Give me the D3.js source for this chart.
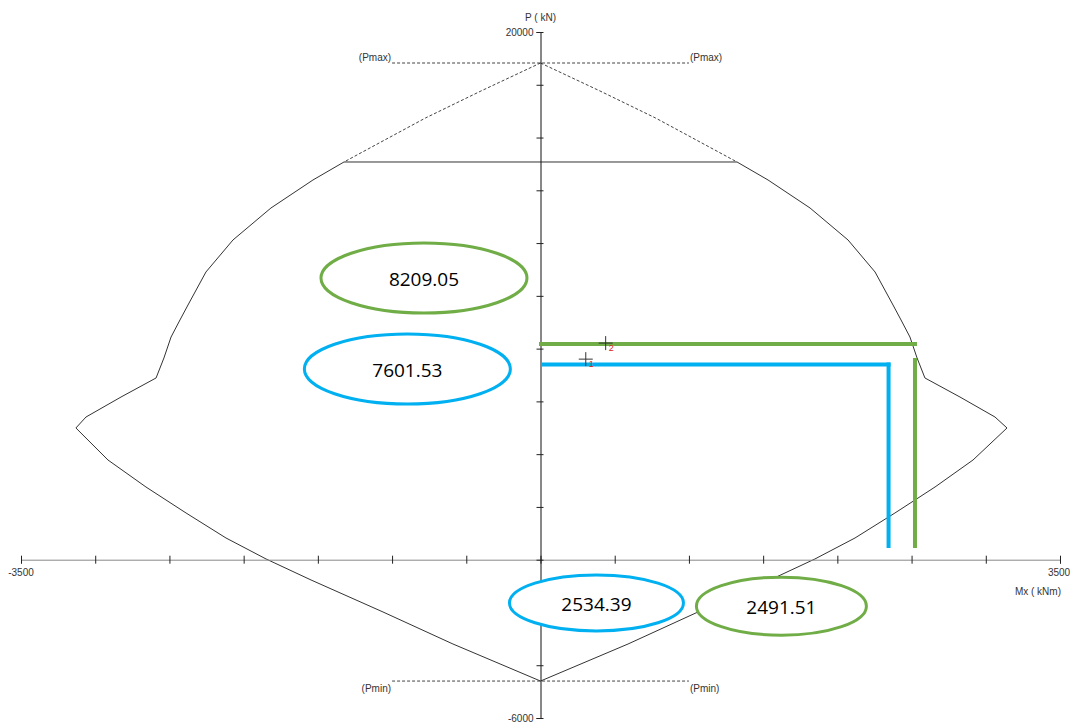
<!DOCTYPE html>
<html>
<head>
<meta charset="utf-8">
<script src="https://cdn.jsdelivr.net/npm/d3@7"></script>
<style>
  body { margin: 0; background: #fff; }
  svg text { font-family: "Liberation Sans", Arial, sans-serif; }
</style>
</head>
<body>
<svg id="chart" width="1075" height="725"></svg>
<script>
// Interaction diagram P-Mx

// axis ranges and ticks
const mDomain = [-3500, 3500];
const pDomain = [20000, -6000];
const mTicks = d3.range(-3500, 3501, 500);
const pTicks = d3.range(-6000, 20001, 2000);

// capacity limits
const pMax = 18825;
const pMin = -4600;
const limitSpan = [-1000, 1000];

// dashed top part of the envelope (above the cut-off)
const capRight = [[0, 18825], [401, 17764], [775, 16741], [1324, 15073]];
const capLeft = [[0, 18825], [-401, 17764], [-775, 16741], [-1324, 15073]];
const cutOff = [[-1324, 15073], [1324, 15073]];

// solid envelope, right and left halves
const envRight = [
  [1324, 15073], [1533, 14391], [1816, 13330], [2072, 12117], [2254, 10904],
  [2375, 9653], [2429, 9085], [2489, 8440], [2537, 7645], [2590, 6887],
  [2826, 6166], [3062, 5408], [3143, 4992], [2914, 3779], [2658, 2755],
  [2388, 1770], [2119, 823], [1849, 27], [1546, -769], [1061, -1982],
  [590, -3195], [0, -4600]
];
const envLeft = [
  [-1324, 15073], [-1533, 14391], [-1816, 13330], [-2072, 12117], [-2254, 10904],
  [-2375, 9653], [-2429, 9085], [-2489, 8440], [-2537, 7645], [-2590, 6887],
  [-2826, 6166], [-3062, 5408], [-3130, 4992], [-2914, 3779], [-2658, 2755],
  [-2388, 1770], [-2119, 823], [-1849, 27], [-1546, -769], [-1061, -1982],
  [-590, -3195], [0, -4600]
];

// load points
const loadIds = ["1", "2"];
const loadM = [305, 439];
const loadP = [7601.53, 8209.05];

// hand-drawn overlay guides
const guideColor = ["#00b0f0", "#70ad47"];
const guideM = [2345, 2523];
const guideP = [7398, 8175];
const guideStartM = [10, -10];
const guideVertTop = [7398, 7645];
const guideVertBottom = 444;

// callouts: label, centre (M, P), colour index
const calloutText = ["8209.05", "7601.53", "2534.39", "2491.51"];
const calloutM = [-785, -897, 377, 1623];
const calloutP = [10677, 7228, -1640, -1760];
const calloutColor = [1, 0, 0, 1];
const calloutRx = [103, 103, 87, 85];
const calloutRy = [35, 35, 28, 29];

const svg = d3.select("svg#chart");

const x = d3.scaleLinear().domain(mDomain).range([21, 1060]);
const y = d3.scaleLinear().domain(pDomain).range([32, 718]);

const line = d3.line().x(d => x(d[0])).y(d => y(d[1]));

const g = svg.append("g");

// envelope
g.selectAll("path.cap")
  .data([capRight, capLeft])
  .enter().append("path")
  .attr("class", "cap")
  .attr("d", line)
  .attr("fill", "none")
  .attr("stroke", "#444")
  .attr("stroke-width", 1)
  .attr("stroke-dasharray", "3,2");

g.selectAll("path.env")
  .data([cutOff, envRight, envLeft])
  .enter().append("path")
  .attr("class", "env")
  .attr("d", line)
  .attr("fill", "none")
  .attr("stroke", "#333")
  .attr("stroke-width", 1);

// Pmax / Pmin limit lines
const limits = [["(Pmax)", pMax, -6], ["(Pmin)", pMin, 7]];
limits.forEach(function(l) {
  g.append("line")
    .attr("x1", x(limitSpan[0])).attr("x2", x(limitSpan[1]))
    .attr("y1", y(l[1])).attr("y2", y(l[1]))
    .attr("stroke", "#444")
    .attr("stroke-dasharray", "3,2");
  g.append("text")
    .attr("x", x(limitSpan[0]) - 1).attr("y", y(l[1]) + l[2])
    .attr("text-anchor", "end").attr("dominant-baseline", "central")
    .style("font-size", "10px").style("fill", "#333")
    .text(l[0]);
  g.append("text")
    .attr("x", x(limitSpan[1]) + 1).attr("y", y(l[1]) + l[2])
    .attr("text-anchor", "start").attr("dominant-baseline", "central")
    .style("font-size", "10px").style("fill", "#333")
    .text(l[0]);
});

// x axis
const xAxis = d3.axisBottom(x).tickValues(mTicks).tickSize(4).tickFormat("");
const xg = g.append("g")
  .attr("transform", "translate(0," + y(0) + ")")
  .call(xAxis);
xg.select(".domain").attr("stroke", "#888");
xg.selectAll(".tick line").attr("y1", -4).attr("y2", 4).attr("stroke", "#222");

// y axis
const yAxis = d3.axisLeft(y).tickValues(pTicks).tickSize(4).tickFormat("");
const yg = g.append("g")
  .attr("transform", "translate(" + x(0) + ",0)")
  .call(yAxis);
yg.select(".domain").attr("stroke", "#111");
yg.selectAll(".tick line").attr("x1", -4).attr("x2", 3).attr("stroke", "#222");

// axis end labels
const axisText = [
  ["20000", x(0) - 7, y(pDomain[0]), "end"],
  ["-6000", x(0) - 7, y(pDomain[1]), "end"],
  ["-3500", x(mDomain[0]), y(0) + 13, "middle"],
  ["3500", x(mDomain[1]) - 1, y(0) + 13, "middle"],
  ["Mx ( kNm)", x(mDomain[1]) + 1, y(0) + 32, "end"],
  ["P ( kN)", x(0), y(pDomain[0]) - 15, "middle"]
];
g.selectAll("text.axl")
  .data(axisText)
  .enter().append("text")
  .attr("class", "axl")
  .attr("x", d => d[1]).attr("y", d => d[2])
  .attr("text-anchor", d => d[3])
  .attr("dominant-baseline", "central")
  .style("font-size", "10px").style("fill", "#333")
  .text(d => d[0]);

// overlay guides
guideM.forEach(function(m, i) {
  g.append("line")
    .attr("x1", x(guideStartM[i])).attr("x2", x(m) + 2)
    .attr("y1", y(guideP[i])).attr("y2", y(guideP[i]))
    .attr("stroke", guideColor[i]).attr("stroke-width", 4);
  g.append("line")
    .attr("x1", x(m)).attr("x2", x(m))
    .attr("y1", y(guideVertTop[i]) - (i == 0 ? 2 : 0)).attr("y2", y(guideVertBottom))
    .attr("stroke", guideColor[i]).attr("stroke-width", 4);
});

// load points
loadM.forEach(function(m, i) {
  const cx = x(m), cy = y(loadP[i]);
  g.append("path")
    .attr("d", "M" + (cx - 7) + "," + cy + "H" + (cx + 7) + "M" + cx + "," + (cy - 7) + "V" + (cy + 7))
    .attr("stroke", "#333").attr("stroke-width", 1).attr("fill", "none");
  g.append("text")
    .attr("x", cx + 3).attr("y", cy + 8)
    .style("font-size", "9px").style("fill", "#e02020")
    .text(loadIds[i]);
});

// callouts
calloutText.forEach(function(t, i) {
  const cx = x(calloutM[i]), cy = y(calloutP[i]);
  g.append("ellipse")
    .attr("cx", cx).attr("cy", cy)
    .attr("rx", calloutRx[i]).attr("ry", calloutRy[i])
    .attr("fill", "#fff")
    .attr("stroke", guideColor[calloutColor[i]])
    .attr("stroke-width", 3);
  g.append("text")
    .attr("x", cx).attr("y", cy + 1)
    .attr("text-anchor", "middle").attr("dominant-baseline", "central")
    .style("font-family", "'Open Sans', sans-serif")
    .style("font-size", "19px").style("fill", "#000")
    .text(t);
});
</script>
</body>
</html>
